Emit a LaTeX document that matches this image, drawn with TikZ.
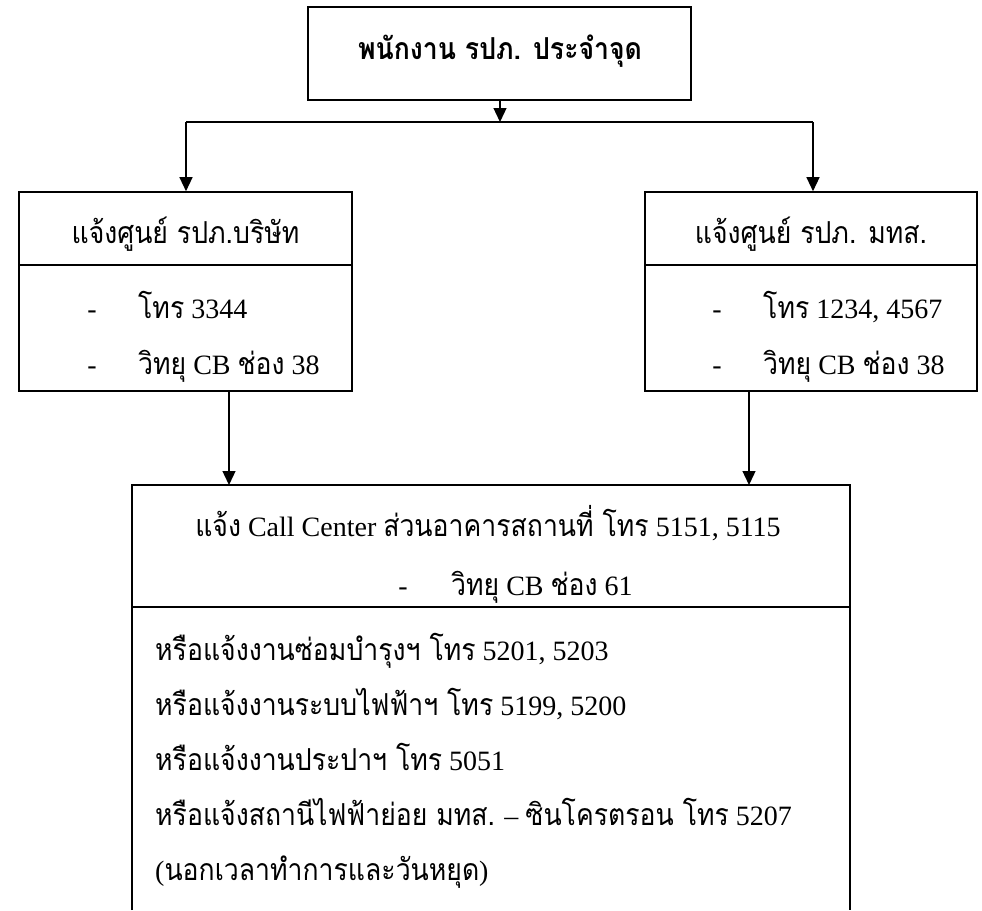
\documentclass[tikz,border=0pt]{standalone}
\usepackage{fontspec}
\setmainfont{Liberation Serif}
\newfontfamily\thai[Script=Thai,Scale=1.08,FakeStretch=0.88]{Loma}
\usetikzlibrary{arrows.meta,calc}
\newcommand{\tht}[1]{{\thai #1}}
\begin{document}
\begin{tikzpicture}[x=1pt,y=-1pt,
  box/.style={draw,line width=1.6pt,inner sep=0pt},
  txt/.style={inner sep=0pt,font=\fontsize{28}{30}\selectfont},
  arr/.style={line width=1.3pt,-{Triangle[length=14pt,width=13pt]}},
  ln/.style={line width=1.3pt},
  divl/.style={line width=1.8pt}]
\useasboundingbox (0,0) rectangle (982,910);
% boxes
\node[box,minimum width=383pt,minimum height=93pt] (top) at (499.5,53.5) {};
\node[box,minimum width=333pt,minimum height=199pt] (lbox) at (185.5,291.5) {};
\node[box,minimum width=332pt,minimum height=199pt] (rbox) at (811,291.5) {};
\draw[divl] ([yshift=-74pt]lbox.north west) -- ([yshift=-74pt]lbox.north east);
\draw[divl] ([yshift=-74pt]rbox.north west) -- ([yshift=-74pt]rbox.north east);
% bottom open box
\coordinate (bbl) at (132,910);
\coordinate (bbtl) at (132,485);
\coordinate (bbtr) at (850,485);
\coordinate (bbr) at (850,910);
\draw[line width=1.6pt] (bbl) -- (bbtl) -- (bbtr) -- (bbr);
\coordinate (bdl) at (132,607);
\coordinate (bdr) at (850,607);
\draw[divl] (bdl) -- (bdr);
% texts
\node[txt,anchor=base] (t0) at (500,59) {\tht{\bfseries พนักงาน รปภ. ประจำจุด}};
\node[txt,anchor=base] (t1) at (185.5,243) {\tht{แจ้งศูนย์ รปภ.บริษัท}};
\node[txt,anchor=base] (d1) at (92,318) {-};
\node[txt,anchor=base west] (t2) at (138,318) {\tht{โทร} 3344};
\node[txt,anchor=base] (d2) at (92,374) {-};
\node[txt,anchor=base west] (t3) at (138,374) {\tht{วิทยุ} CB \tht{ช่อง} 38};
\node[txt,anchor=base] (t4) at (811,243) {\tht{แจ้งศูนย์ รปภ. มทส.}};
\node[txt,anchor=base] (d3) at (717,318) {-};
\node[txt,anchor=base west] (t5) at (763,318) {\tht{โทร} 1234, 4567};
\node[txt,anchor=base] (d4) at (717,374) {-};
\node[txt,anchor=base west] (t6) at (763,374) {\tht{วิทยุ} CB \tht{ช่อง} 38};
\node[txt,anchor=base] (t7) at (488,536) {\tht{แจ้ง} Call Center \tht{ส่วนอาคารสถานที่ โทร} 5151, 5115};
\node[txt,anchor=base] (d5) at (403,595) {-};
\node[txt,anchor=base west] (t8) at (451,595) {\tht{วิทยุ} CB \tht{ช่อง} 61};
\node[txt,anchor=base west] (t9) at (155,660) {\tht{หรือแจ้งงานซ่อมบำรุงฯ โทร} 5201, 5203};
\node[txt,anchor=base west] (t10) at (155,715) {\tht{หรือแจ้งงานระบบไฟฟ้าฯ โทร} 5199, 5200};
\node[txt,anchor=base west] (t11) at (155,770) {\tht{หรือแจ้งงานประปาฯ โทร} 5051};
\node[txt,anchor=base west] (t12) at (155,825) {\tht{หรือแจ้งสถานีไฟฟ้าย่อย มทส.} – \tht{ซินโครตรอน โทร} 5207};
\node[txt,anchor=base west] (t13) at (155,880) {(\tht{นอกเวลาทำการและวันหยุด})};
% connectors
\coordinate (hl) at (186,122);
\coordinate (hr) at (813,122);
\coordinate (hm) at (500,122);
\draw[arr] (top.south -| hm) -- (hm);
\draw[ln] (hl) -- (hr);
\draw[arr] (hl) -- (lbox.north -| hl);
\draw[arr] (hr) -- (rbox.north -| hr);
\coordinate (bl) at (229,485);
\coordinate (br) at (749,485);
\draw[arr] (lbox.south -| bl) -- (bl);
\draw[arr] (rbox.south -| br) -- (br);
\end{tikzpicture}
\end{document}
